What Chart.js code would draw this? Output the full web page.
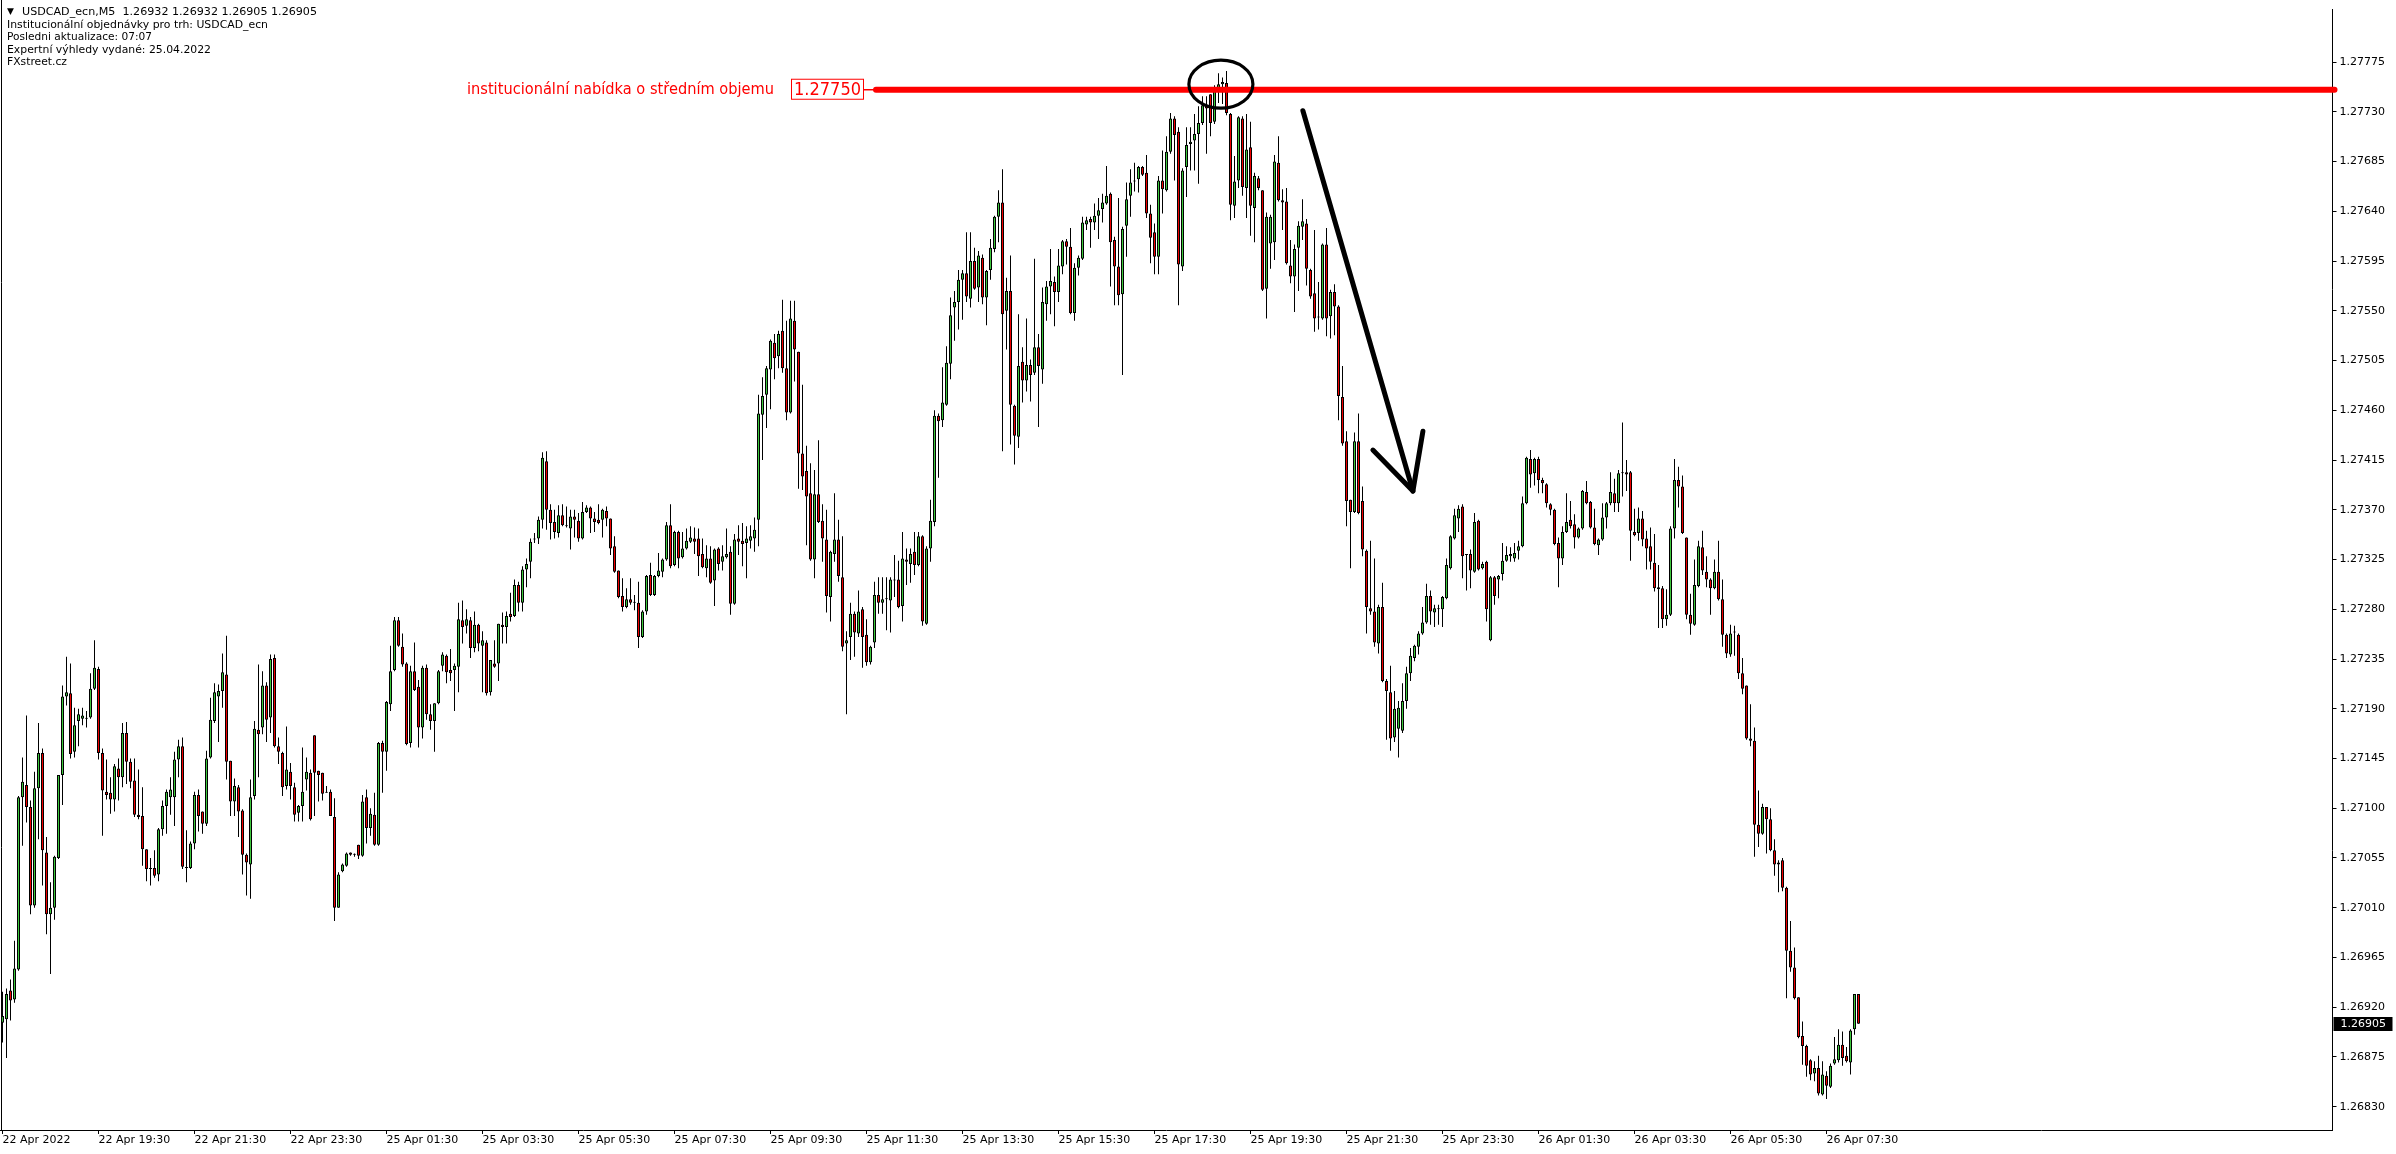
<!DOCTYPE html>
<html><head><meta charset="utf-8">
<script src="https://cdn.jsdelivr.net/npm/chart.js@4.4.1/dist/chart.umd.min.js"></script>
<style>html,body{margin:0;padding:0;background:#fff;overflow:hidden}#wrap{position:relative;width:2396px;height:1154px}canvas{display:block}</style>
</head><body><div id="wrap"><canvas id="c" width="2396" height="1154"></canvas></div>
<script>
// ---------- data (USDCAD M5, one value per 5-minute bar) ----------
const symbolName = 'USDCAD_ecn,M5';
const infoLines = ['Institucionální objednávky pro trh: USDCAD_ecn','Posledni aktualizace: 07:07','Expertní výhledy vydané: 25.04.2022','FXstreet.cz'];
const sessionDays = ['22 Apr','25 Apr','26 Apr'];
const firstBarTime = '17:30';
const xTickLabels = ['22 Apr 2022','22 Apr 19:30','22 Apr 21:30','22 Apr 23:30','25 Apr 01:30','25 Apr 03:30','25 Apr 05:30','25 Apr 07:30','25 Apr 09:30','25 Apr 11:30','25 Apr 13:30','25 Apr 15:30','25 Apr 17:30','25 Apr 19:30','25 Apr 21:30','25 Apr 23:30','26 Apr 01:30','26 Apr 03:30','26 Apr 05:30','26 Apr 07:30'];
const yTickValues = [1.26830,1.26875,1.26920,1.26965,1.27010,1.27055,1.27100,1.27145,1.27190,1.27235,1.27280,1.27325,1.27370,1.27415,1.27460,1.27505,1.27550,1.27595,1.27640,1.27685,1.27730,1.27775];
const levelPrice = 1.27750;
const levelText = 'institucionální nabídka o středním objemu';

const openP = [
1.26906,1.26909,1.26935,1.26927,1.26954,1.27110,1.27121,1.27101,1.27012,1.27118,
1.27150,1.27060,1.27004,1.27010,1.27055,1.27130,1.27201,1.27204,1.27151,1.27179,
1.27181,1.27181,1.27182,1.27208,1.27226,1.27150,1.27115,1.27114,1.27108,1.27136,
1.27128,1.27168,1.27142,1.27125,1.27094,1.27093,1.27063,1.27045,1.27046,1.27040,
1.27081,1.27102,1.27110,1.27110,1.27144,1.27156,1.27046,1.27046,1.27068,1.27112,
1.27097,1.27086,1.27146,1.27179,1.27201,1.27206,1.27221,1.27143,1.27106,1.27119,
1.27098,1.27058,1.27049,1.27111,1.27171,1.27173,1.27211,1.27182,1.27236,1.27156,
1.27150,1.27120,1.27133,1.27119,1.27096,1.27102,1.27126,1.27132,1.27166,1.27134,
1.27132,1.27114,1.27115,1.27092,1.27010,1.27043,1.27048,1.27060,1.27058,1.27067,
1.27057,1.27110,1.27082,1.27094,1.27067,1.27159,1.27151,1.27194,1.27225,1.27270,
1.27246,1.27231,1.27159,1.27224,1.27210,1.27173,1.27227,1.27185,1.27179,1.27195,
1.27229,1.27238,1.27225,1.27225,1.27228,1.27270,1.27265,1.27270,1.27245,1.27266,
1.27247,1.27250,1.27205,1.27231,1.27231,1.27266,1.27264,1.27276,1.27274,1.27302,
1.27286,1.27316,1.27323,1.27343,1.27344,1.27361,1.27414,1.27370,1.27359,1.27349,
1.27365,1.27356,1.27353,1.27364,1.27360,1.27344,1.27368,1.27372,1.27362,1.27361,
1.27361,1.27369,1.27362,1.27337,1.27315,1.27292,1.27282,1.27289,1.27286,1.27286,
1.27255,1.27278,1.27311,1.27293,1.27310,1.27314,1.27325,1.27356,1.27320,1.27350,
1.27327,1.27335,1.27341,1.27344,1.27344,1.27330,1.27317,1.27326,1.27306,1.27335,
1.27323,1.27327,1.27332,1.27285,1.27344,1.27342,1.27340,1.27342,1.27344,1.27361,
1.27456,1.27474,1.27497,1.27521,1.27509,1.27532,1.27498,1.27458,1.27541,1.27513,
1.27421,1.27405,1.27385,1.27325,1.27384,1.27360,1.27343,1.27291,1.27330,1.27343,
1.27309,1.27249,1.27255,1.27276,1.27258,1.27280,1.27257,1.27232,1.27250,1.27293,
1.27286,1.27289,1.27288,1.27307,1.27307,1.27283,1.27325,1.27321,1.27332,1.27320,
1.27346,1.27267,1.27335,1.27359,1.27455,1.27451,1.27465,1.27502,1.27553,1.27558,
1.27578,1.27584,1.27561,1.27595,1.27571,1.27598,1.27562,1.27587,1.27606,1.27635,
1.27648,1.27550,1.27568,1.27464,1.27436,1.27504,1.27487,1.27501,1.27494,1.27517,
1.27497,1.27556,1.27572,1.27576,1.27567,1.27590,1.27613,1.27608,1.27548,1.27589,
1.27597,1.27628,1.27633,1.27630,1.27636,1.27642,1.27647,1.27656,1.27614,1.27590,
1.27565,1.27627,1.27654,1.27667,1.27669,1.27680,1.27675,1.27638,1.27621,1.27599,
1.27668,1.27659,1.27694,1.27724,1.27712,1.27590,1.27680,1.27701,1.27704,1.27710,
1.27720,1.27736,1.27746,1.27721,1.27750,1.27755,1.27756,1.27728,1.27645,1.27668,
1.27724,1.27661,1.27698,1.27643,1.27670,1.27659,1.27570,1.27611,1.27612,1.27684,
1.27650,1.27649,1.27591,1.27581,1.27607,1.27626,1.27629,1.27587,1.27566,1.27544,
1.27543,1.27610,1.27545,1.27567,1.27554,1.27472,1.27432,1.27379,1.27368,1.27432,
1.27378,1.27333,1.27281,1.27278,1.27249,1.27282,1.27215,1.27205,1.27164,1.27172,
1.27170,1.27197,1.27222,1.27236,1.27246,1.27258,1.27268,1.27292,1.27277,1.27280,
1.27280,1.27290,1.27317,1.27344,1.27362,1.27373,1.27329,1.27330,1.27314,1.27360,
1.27317,1.27323,1.27252,1.27309,1.27307,1.27312,1.27324,1.27328,1.27326,1.27333,
1.27337,1.27376,1.27416,1.27403,1.27416,1.27397,1.27393,1.27375,1.27370,1.27340,
1.27326,1.27350,1.27361,1.27357,1.27345,1.27353,1.27386,1.27377,1.27354,1.27338,
1.27343,1.27363,1.27376,1.27385,1.27376,1.27403,1.27404,1.27404,1.27350,1.27349,
1.27362,1.27344,1.27337,1.27322,1.27300,1.27299,1.27271,1.27275,1.27353,1.27397,
1.27391,1.27345,1.27275,1.27266,1.27301,1.27336,1.27314,1.27307,1.27299,1.27314,
1.27289,1.27257,1.27239,1.27259,1.27257,1.27222,1.27211,1.27163,1.27161,1.27085,
1.27077,1.27101,1.27090,1.27062,1.27049,1.27053,1.27028,1.26971,1.26956,1.26929,
1.26894,1.26885,1.26872,1.26860,1.26865,1.26841,1.26858,1.26848,1.26869,1.26872,
1.26886,1.26876,1.26870,1.26900,1.26932];

const highP = [
1.26934,1.26937,1.26945,1.26980,1.27111,1.27146,1.27184,1.27107,1.27133,1.27177,
1.27154,1.27074,1.27033,1.27057,1.27130,1.27211,1.27237,1.27231,1.27191,1.27190,
1.27191,1.27188,1.27222,1.27252,1.27228,1.27154,1.27144,1.27128,1.27140,1.27145,
1.27177,1.27178,1.27145,1.27145,1.27135,1.27119,1.27063,1.27055,1.27062,1.27082,
1.27107,1.27117,1.27128,1.27151,1.27162,1.27164,1.27080,1.27070,1.27115,1.27117,
1.27097,1.27152,1.27200,1.27213,1.27212,1.27240,1.27256,1.27143,1.27127,1.27121,
1.27099,1.27059,1.27126,1.27179,1.27230,1.27224,1.27214,1.27239,1.27239,1.27164,
1.27151,1.27174,1.27141,1.27123,1.27103,1.27155,1.27146,1.27135,1.27166,1.27134,
1.27132,1.27120,1.27117,1.27109,1.27042,1.27050,1.27060,1.27060,1.27059,1.27067,
1.27112,1.27117,1.27100,1.27114,1.27160,1.27161,1.27197,1.27247,1.27273,1.27273,
1.27258,1.27232,1.27229,1.27250,1.27216,1.27229,1.27230,1.27194,1.27195,1.27225,
1.27241,1.27239,1.27244,1.27231,1.27286,1.27288,1.27280,1.27273,1.27278,1.27267,
1.27260,1.27252,1.27234,1.27252,1.27267,1.27277,1.27278,1.27295,1.27307,1.27305,
1.27319,1.27326,1.27344,1.27349,1.27364,1.27422,1.27423,1.27375,1.27370,1.27374,
1.27375,1.27373,1.27370,1.27370,1.27367,1.27377,1.27374,1.27373,1.27368,1.27375,
1.27371,1.27373,1.27362,1.27346,1.27315,1.27308,1.27299,1.27308,1.27293,1.27305,
1.27279,1.27311,1.27322,1.27311,1.27331,1.27326,1.27359,1.27375,1.27351,1.27351,
1.27350,1.27353,1.27355,1.27354,1.27353,1.27344,1.27338,1.27337,1.27335,1.27336,
1.27338,1.27353,1.27337,1.27348,1.27356,1.27358,1.27355,1.27356,1.27363,1.27474,
1.27490,1.27500,1.27524,1.27529,1.27532,1.27560,1.27541,1.27559,1.27559,1.27513,
1.27483,1.27428,1.27412,1.27406,1.27433,1.27375,1.27370,1.27333,1.27385,1.27361,
1.27346,1.27260,1.27286,1.27278,1.27297,1.27282,1.27271,1.27247,1.27305,1.27309,
1.27309,1.27309,1.27309,1.27329,1.27324,1.27350,1.27335,1.27335,1.27350,1.27350,
1.27347,1.27337,1.27379,1.27460,1.27457,1.27499,1.27518,1.27562,1.27568,1.27587,
1.27587,1.27621,1.27621,1.27607,1.27604,1.27601,1.27587,1.27615,1.27636,1.27659,
1.27678,1.27580,1.27600,1.27465,1.27547,1.27517,1.27543,1.27506,1.27597,1.27529,
1.27571,1.27577,1.27606,1.27581,1.27606,1.27614,1.27615,1.27625,1.27593,1.27600,
1.27635,1.27635,1.27635,1.27647,1.27652,1.27656,1.27681,1.27657,1.27617,1.27652,
1.27626,1.27666,1.27678,1.27684,1.27681,1.27681,1.27691,1.27646,1.27629,1.27672,
1.27695,1.27708,1.27729,1.27726,1.27716,1.27679,1.27716,1.27716,1.27728,1.27735,
1.27744,1.27744,1.27746,1.27754,1.27765,1.27761,1.27767,1.27729,1.27690,1.27726,
1.27726,1.27728,1.27721,1.27675,1.27672,1.27659,1.27639,1.27637,1.27691,1.27708,
1.27660,1.27661,1.27614,1.27610,1.27631,1.27651,1.27633,1.27588,1.27623,1.27576,
1.27611,1.27625,1.27569,1.27574,1.27555,1.27500,1.27441,1.27379,1.27440,1.27457,
1.27391,1.27334,1.27342,1.27326,1.27284,1.27304,1.27217,1.27229,1.27206,1.27197,
1.27213,1.27228,1.27245,1.27248,1.27260,1.27282,1.27303,1.27297,1.27284,1.27284,
1.27292,1.27326,1.27347,1.27371,1.27374,1.27375,1.27330,1.27334,1.27367,1.27361,
1.27323,1.27324,1.27310,1.27310,1.27311,1.27340,1.27337,1.27336,1.27340,1.27342,
1.27382,1.27418,1.27424,1.27417,1.27418,1.27399,1.27394,1.27376,1.27371,1.27345,
1.27355,1.27385,1.27378,1.27366,1.27354,1.27388,1.27396,1.27378,1.27371,1.27344,
1.27376,1.27377,1.27404,1.27398,1.27406,1.27449,1.27415,1.27405,1.27371,1.27372,
1.27369,1.27351,1.27354,1.27348,1.27320,1.27301,1.27298,1.27355,1.27416,1.27409,
1.27401,1.27345,1.27294,1.27325,1.27342,1.27351,1.27328,1.27308,1.27325,1.27342,
1.27307,1.27258,1.27266,1.27265,1.27258,1.27236,1.27211,1.27194,1.27173,1.27116,
1.27104,1.27101,1.27100,1.27072,1.27053,1.27055,1.27029,1.26998,1.26974,1.26929,
1.26907,1.26886,1.26873,1.26871,1.26876,1.26871,1.26862,1.26869,1.26893,1.26900,
1.26898,1.26884,1.26900,1.26932,1.26932];

const lowP = [
1.26888,1.26874,1.26908,1.26924,1.26953,1.27066,1.27087,1.27004,1.27010,1.27072,
1.27030,1.26986,1.26950,1.26999,1.27054,1.27103,1.27193,1.27145,1.27146,1.27156,
1.27175,1.27173,1.27181,1.27207,1.27144,1.27075,1.27108,1.27095,1.27097,1.27107,
1.27119,1.27122,1.27118,1.27092,1.27090,1.27048,1.27034,1.27030,1.27037,1.27034,
1.27075,1.27077,1.27094,1.27084,1.27128,1.27045,1.27033,1.27045,1.27063,1.27079,
1.27077,1.27084,1.27145,1.27177,1.27160,1.27191,1.27126,1.27093,1.27093,1.27074,
1.27040,1.27021,1.27018,1.27108,1.27128,1.27167,1.27160,1.27168,1.27155,1.27140,
1.27111,1.27117,1.27108,1.27088,1.27088,1.27088,1.27116,1.27089,1.27093,1.27106,
1.27107,1.27114,1.27093,1.26998,1.27010,1.27042,1.27047,1.27057,1.27056,1.27054,
1.27056,1.27068,1.27075,1.27066,1.27066,1.27114,1.27134,1.27188,1.27224,1.27246,
1.27228,1.27157,1.27155,1.27206,1.27155,1.27163,1.27180,1.27171,1.27151,1.27194,
1.27224,1.27213,1.27215,1.27188,1.27205,1.27249,1.27258,1.27236,1.27241,1.27242,
1.27205,1.27202,1.27202,1.27227,1.27215,1.27249,1.27249,1.27269,1.27273,1.27278,
1.27278,1.27300,1.27308,1.27340,1.27339,1.27353,1.27352,1.27343,1.27344,1.27345,
1.27355,1.27354,1.27334,1.27345,1.27341,1.27343,1.27367,1.27349,1.27350,1.27357,
1.27345,1.27355,1.27329,1.27313,1.27290,1.27278,1.27281,1.27284,1.27279,1.27245,
1.27254,1.27275,1.27292,1.27292,1.27309,1.27309,1.27324,1.27317,1.27319,1.27317,
1.27326,1.27334,1.27340,1.27330,1.27310,1.27317,1.27309,1.27303,1.27283,1.27315,
1.27315,1.27326,1.27275,1.27284,1.27329,1.27319,1.27308,1.27335,1.27332,1.27337,
1.27415,1.27444,1.27461,1.27488,1.27498,1.27494,1.27451,1.27457,1.27486,1.27389,
1.27388,1.27338,1.27324,1.27308,1.27358,1.27323,1.27277,1.27269,1.27323,1.27305,
1.27242,1.27185,1.27234,1.27237,1.27255,1.27227,1.27229,1.27230,1.27245,1.27276,
1.27276,1.27261,1.27259,1.27291,1.27281,1.27269,1.27302,1.27304,1.27311,1.27319,
1.27265,1.27266,1.27323,1.27355,1.27399,1.27445,1.27464,1.27488,1.27523,1.27533,
1.27542,1.27558,1.27553,1.27569,1.27558,1.27556,1.27537,1.27578,1.27603,1.27612,
1.27423,1.27515,1.27429,1.27411,1.27426,1.27467,1.27477,1.27468,1.27492,1.27445,
1.27484,1.27541,1.27547,1.27536,1.27558,1.27583,1.27592,1.27547,1.27541,1.27582,
1.27596,1.27623,1.27607,1.27623,1.27615,1.27630,1.27646,1.27572,1.27555,1.27555,
1.27492,1.27599,1.27635,1.27658,1.27657,1.27672,1.27634,1.27593,1.27583,1.27583,
1.27638,1.27658,1.27692,1.27668,1.27555,1.27586,1.27653,1.27677,1.27677,1.27665,
1.27718,1.27692,1.27708,1.27719,1.27738,1.27737,1.27727,1.27632,1.27634,1.27661,
1.27654,1.27634,1.27618,1.27612,1.27659,1.27568,1.27543,1.27588,1.27596,1.27649,
1.27623,1.27592,1.27575,1.27549,1.27568,1.27614,1.27573,1.27561,1.27531,1.27533,
1.27542,1.27527,1.27525,1.27528,1.27451,1.27428,1.27355,1.27317,1.27367,1.27366,
1.27328,1.27258,1.27275,1.27246,1.27240,1.27214,1.27162,1.27152,1.27160,1.27146,
1.27168,1.27190,1.27215,1.27233,1.27239,1.27257,1.27267,1.27266,1.27264,1.27266,
1.27264,1.27289,1.27316,1.27343,1.27350,1.27308,1.27297,1.27299,1.27313,1.27315,
1.27316,1.27269,1.27251,1.27284,1.27290,1.27306,1.27323,1.27323,1.27323,1.27325,
1.27336,1.27375,1.27390,1.27392,1.27385,1.27385,1.27372,1.27365,1.27338,1.27300,
1.27320,1.27349,1.27353,1.27335,1.27344,1.27352,1.27375,1.27353,1.27338,1.27329,
1.27342,1.27353,1.27374,1.27368,1.27368,1.27382,1.27387,1.27324,1.27346,1.27342,
1.27337,1.27316,1.27316,1.27296,1.27263,1.27263,1.27265,1.27274,1.27344,1.27372,
1.27348,1.27271,1.27257,1.27265,1.27300,1.27311,1.27300,1.27275,1.27298,1.27288,
1.27246,1.27236,1.27237,1.27238,1.27217,1.27203,1.27162,1.27156,1.27056,1.27065,
1.27076,1.27059,1.27061,1.27039,1.27024,1.27025,1.26928,1.26952,1.26927,1.26892,
1.26868,1.26857,1.26854,1.26853,1.26840,1.26840,1.26837,1.26847,1.26868,1.26870,
1.26867,1.26870,1.26859,1.26895,1.26905];

const closeP = [
1.26912,1.26932,1.26926,1.26955,1.27110,1.27124,1.27101,1.27012,1.27118,1.27150,
1.27062,1.27004,1.27010,1.27056,1.27130,1.27201,1.27205,1.27149,1.27175,1.27185,
1.27184,1.27181,1.27208,1.27227,1.27150,1.27116,1.27112,1.27108,1.27138,1.27128,
1.27168,1.27142,1.27124,1.27094,1.27092,1.27063,1.27045,1.27045,1.27039,1.27081,
1.27102,1.27115,1.27117,1.27144,1.27156,1.27047,1.27046,1.27068,1.27112,1.27093,
1.27086,1.27145,1.27180,1.27205,1.27206,1.27223,1.27142,1.27106,1.27120,1.27097,
1.27058,1.27051,1.27110,1.27172,1.27167,1.27211,1.27180,1.27235,1.27156,1.27151,
1.27119,1.27135,1.27120,1.27094,1.27102,1.27115,1.27133,1.27090,1.27132,1.27130,
1.27113,1.27114,1.27093,1.27010,1.27040,1.27049,1.27059,1.27058,1.27058,1.27057,
1.27106,1.27082,1.27095,1.27067,1.27159,1.27151,1.27196,1.27224,1.27270,1.27247,
1.27230,1.27158,1.27224,1.27207,1.27173,1.27227,1.27185,1.27179,1.27195,1.27224,
1.27239,1.27223,1.27222,1.27229,1.27271,1.27264,1.27271,1.27245,1.27266,1.27249,
1.27252,1.27204,1.27234,1.27228,1.27267,1.27264,1.27274,1.27273,1.27302,1.27286,
1.27316,1.27321,1.27341,1.27344,1.27361,1.27417,1.27370,1.27358,1.27350,1.27365,
1.27356,1.27355,1.27364,1.27361,1.27344,1.27368,1.27372,1.27362,1.27359,1.27358,
1.27370,1.27362,1.27335,1.27314,1.27291,1.27282,1.27289,1.27286,1.27286,1.27255,
1.27278,1.27310,1.27293,1.27310,1.27315,1.27325,1.27356,1.27319,1.27350,1.27326,
1.27335,1.27342,1.27345,1.27341,1.27328,1.27318,1.27326,1.27304,1.27334,1.27321,
1.27328,1.27330,1.27285,1.27343,1.27341,1.27339,1.27344,1.27346,1.27352,1.27457,
1.27473,1.27498,1.27523,1.27507,1.27529,1.27498,1.27458,1.27543,1.27515,1.27421,
1.27400,1.27382,1.27325,1.27384,1.27359,1.27344,1.27292,1.27332,1.27343,1.27310,
1.27246,1.27252,1.27276,1.27259,1.27278,1.27255,1.27232,1.27246,1.27293,1.27286,
1.27289,1.27289,1.27307,1.27306,1.27282,1.27326,1.27323,1.27330,1.27320,1.27346,
1.27269,1.27335,1.27360,1.27455,1.27450,1.27467,1.27503,1.27546,1.27558,1.27578,
1.27584,1.27563,1.27595,1.27570,1.27600,1.27562,1.27586,1.27607,1.27635,1.27648,
1.27547,1.27568,1.27465,1.27437,1.27500,1.27487,1.27501,1.27492,1.27517,1.27500,
1.27558,1.27572,1.27577,1.27567,1.27591,1.27613,1.27608,1.27548,1.27589,1.27598,
1.27630,1.27632,1.27630,1.27636,1.27641,1.27648,1.27654,1.27612,1.27590,1.27564,
1.27624,1.27651,1.27666,1.27668,1.27680,1.27673,1.27638,1.27616,1.27599,1.27668,
1.27660,1.27694,1.27724,1.27709,1.27592,1.27677,1.27700,1.27703,1.27710,1.27720,
1.27736,1.27733,1.27720,1.27750,1.27755,1.27757,1.27729,1.27646,1.27667,1.27725,
1.27662,1.27696,1.27645,1.27672,1.27661,1.27569,1.27635,1.27635,1.27685,1.27650,
1.27648,1.27593,1.27581,1.27606,1.27627,1.27631,1.27588,1.27563,1.27543,1.27544,
1.27610,1.27543,1.27567,1.27554,1.27473,1.27430,1.27378,1.27368,1.27432,1.27367,
1.27334,1.27282,1.27278,1.27250,1.27282,1.27215,1.27206,1.27163,1.27190,1.27191,
1.27197,1.27222,1.27238,1.27247,1.27258,1.27268,1.27292,1.27278,1.27281,1.27280,
1.27291,1.27320,1.27346,1.27365,1.27371,1.27328,1.27329,1.27315,1.27359,1.27316,
1.27321,1.27280,1.27309,1.27292,1.27310,1.27324,1.27329,1.27330,1.27331,1.27337,
1.27376,1.27417,1.27402,1.27416,1.27397,1.27394,1.27376,1.27370,1.27339,1.27326,
1.27350,1.27359,1.27355,1.27345,1.27353,1.27387,1.27376,1.27354,1.27339,1.27343,
1.27363,1.27376,1.27386,1.27376,1.27403,1.27404,1.27402,1.27351,1.27347,1.27362,
1.27343,1.27335,1.27323,1.27299,1.27298,1.27271,1.27275,1.27353,1.27397,1.27391,
1.27349,1.27275,1.27267,1.27302,1.27337,1.27315,1.27307,1.27299,1.27314,1.27289,
1.27257,1.27240,1.27258,1.27259,1.27222,1.27208,1.27163,1.27161,1.27085,1.27077,
1.27101,1.27090,1.27062,1.27049,1.27051,1.27028,1.26971,1.26956,1.26928,1.26893,
1.26885,1.26867,1.26859,1.26865,1.26842,1.26859,1.26849,1.26867,1.26873,1.26886,
1.26874,1.26871,1.26899,1.26932,1.26905];

// ---------- categories: one 5-minute bar time per candle ----------
const times = [];
(function(){
  let d = 0, parts = firstBarTime.split(':'), m = (+parts[0]) * 60 + (+parts[1]);
  for (let i = 0; i < closeP.length; i++) {
    times.push(sessionDays[d] + ' ' + String(Math.floor(m / 60)).padStart(2, '0') + ':' + String(m % 60).padStart(2, '0'));
    m += 5; if (m >= 1440) { m = 0; d++; }
  }
})();
const SLOTS = 583; // visible bar slots (empty space to the right of the last bar)
const labels = times.concat(new Array(SLOTS - times.length).fill(''));

const BULL = '#3CC83C', BEAR = '#F00000';
const bodyData = openP.map((o, i) => [o, closeP[i]]);
const wickData = lowP.map((l, i) => [l, highP[i]]);
const bodyColors = openP.map((o, i) => closeP[i] > o ? BULL : (closeP[i] < o ? BEAR : '#000'));
const last = closeP.length - 1;

function fitText(ctx, text, x, y, width, font, color, align) {
  ctx.save();
  ctx.font = font; ctx.fillStyle = color; ctx.textBaseline = 'middle'; ctx.textAlign = 'left';
  const w = ctx.measureText(text).width;
  const sx = width / w;
  const x0 = align === 'right' ? x - width : x;
  ctx.translate(x0, y); ctx.scale(sx, 1);
  ctx.fillText(text, 0, 0);
  ctx.restore();
}

const overlay = {
  id: 'overlay',
  afterDatasetsDraw(chart) {
    const { ctx, chartArea: a, scales: { x, y } } = chart;
    ctx.save();
    // red level line with label
    const ly = y.getPixelForValue(levelPrice);
    ctx.strokeStyle = '#FF0000';
    ctx.lineCap = 'round';
    ctx.lineWidth = 6;
    ctx.beginPath(); ctx.moveTo(876, ly); ctx.lineTo(a.right + 2, ly); ctx.stroke();
    ctx.lineWidth = 1.5; ctx.lineCap = 'butt';
    ctx.beginPath(); ctx.moveTo(864, ly); ctx.lineTo(876, ly); ctx.stroke();
    // price box
    ctx.fillStyle = '#fff'; ctx.fillRect(791, ly - 11, 73, 21);
    ctx.lineWidth = 1; ctx.strokeStyle = '#FF0000';
    ctx.strokeRect(791.5, ly - 10.5, 72, 20);
    fitText(ctx, levelPrice.toFixed(5), 794, ly + 1, 67, '18px "DejaVu Sans"', '#FF0000', 'left');
    fitText(ctx, levelText, 774, ly, 307, '15px "DejaVu Sans"', '#FF0000', 'right');

    // ellipse around the high
    ctx.strokeStyle = '#000'; ctx.lineWidth = 3.2;
    ctx.beginPath();
    ctx.ellipse(x.getPixelForValue(304.6), y.getPixelForValue(1.27755), 32, 24, 0, 0, Math.PI * 2);
    ctx.stroke();

    // arrow
    const P = (i, p) => [x.getPixelForValue(i), y.getPixelForValue(p)];
    const s = P(325.1, 1.27731), t = P(352.6, 1.27387), r = P(355.1, 1.27441), l = P(342.6, 1.27424);
    ctx.lineWidth = 5; ctx.lineCap = 'round'; ctx.lineJoin = 'round';
    ctx.beginPath(); ctx.moveTo(s[0], s[1]); ctx.lineTo(t[0], t[1]); ctx.stroke();
    ctx.beginPath(); ctx.moveTo(l[0], l[1]); ctx.lineTo(t[0], t[1]); ctx.lineTo(r[0], r[1]); ctx.stroke();
    ctx.restore();
  },
  afterDraw(chart) {
    const { ctx, chartArea: a, scales: { y } } = chart;
    ctx.save();
    // frame left side
    ctx.strokeStyle = '#000'; ctx.lineWidth = 1;
    ctx.beginPath(); ctx.moveTo(1.5, 0); ctx.lineTo(1.5, a.bottom); ctx.stroke();
    // last price tag
    const py = Math.round(y.getPixelForValue(closeP[last]));
    ctx.fillStyle = '#000'; ctx.fillRect(a.right + 1, py - 7, 59, 14);
    ctx.fillStyle = '#fff'; ctx.font = '11px "DejaVu Sans"'; ctx.textBaseline = 'middle'; ctx.textAlign = 'left';
    ctx.fillText(closeP[last].toFixed(5), a.right + 8, py + 0.5);
    // header
    const head = symbolName + '  ' + [openP[last], highP[last], lowP[last], closeP[last]].map(v => v.toFixed(5)).join(' ');
    ctx.fillStyle = '#000'; ctx.font = '9px "DejaVu Sans"';
    ctx.fillText('▼', 7, 12);
    fitText(ctx, head, 22, 12.5, 295, '11px "DejaVu Sans"', '#000', 'left');
    const widths = [261, 145, 204, 60];
    infoLines.forEach((t, k) => fitText(ctx, t, 7, 24.9 + k * 12.4, widths[k], '11px "DejaVu Sans"', '#000', 'left'));
    ctx.restore();
  }
};

new Chart(document.getElementById('c'), {
  type: 'bar',
  data: {
    labels: labels,
    datasets: [
      { data: bodyData, backgroundColor: bodyColors, borderColor: '#000', borderWidth: 1, borderSkipped: false,
        barThickness: 3, minBarLength: 1, grouped: false, inflateAmount: 0, order: 0 },
      { data: wickData, backgroundColor: '#000', borderWidth: 0, barThickness: 1, grouped: false, inflateAmount: 0, order: 1 }
    ]
  },
  options: {
    responsive: false, animation: false, devicePixelRatio: 1,
    layout: { padding: { left: 0.5, top: 0, right: 0, bottom: 0 } },
    plugins: { legend: { display: false }, tooltip: { enabled: false } },
    scales: {
      x: {
        type: 'category', offset: true,
        grid: { display: true, offset: false, drawOnChartArea: false, drawTicks: true, tickLength: 4, color: '#000', lineWidth: 1 },
        border: { display: true, color: '#000', width: 1 },
        ticks: {
          autoSkip: false, maxRotation: 0, minRotation: 0, align: 'start', padding: 0, color: '#000',
          font: { family: 'DejaVu Sans', size: 11 },
          callback: (v, i) => {
            if (i === 0) return xTickLabels[0];
            const t = labels[i];
            return (t && xTickLabels.indexOf(t) > 0) ? t : null;
          }
        },
        afterFit: s => { s.height = 24; }
      },
      y: {
        position: 'right', min: 1.268089, max: 1.278225,
        afterBuildTicks: s => { s.ticks = yTickValues.map(v => ({ value: v })); },
        grid: { display: true, drawOnChartArea: false, drawTicks: true, tickLength: 4, color: '#000', lineWidth: 1 },
        border: { display: true, color: '#000', width: 1 },
        ticks: { padding: 3, color: '#000', font: { family: 'DejaVu Sans', size: 11 }, callback: v => v.toFixed(5) },
        afterFit: s => { s.width = 63.5; }
      }
    }
  },
  plugins: [overlay]
});
</script>
</body></html>
